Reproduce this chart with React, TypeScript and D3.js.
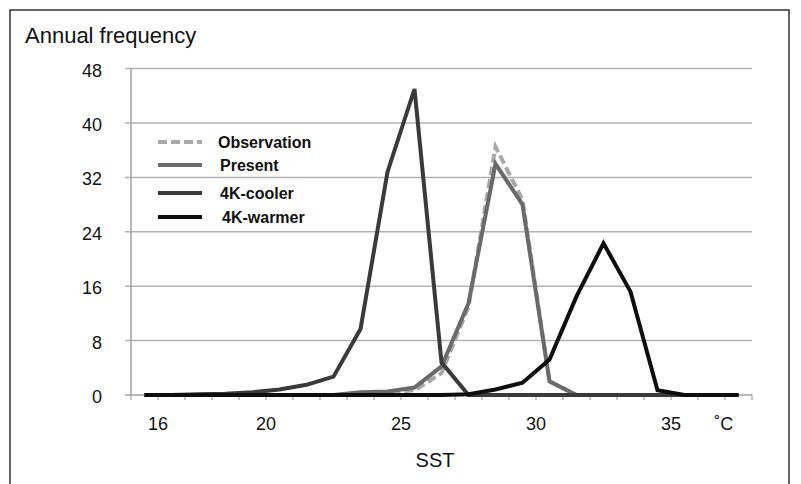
import { useEffect, useRef } from 'react'
import * as d3 from 'd3'

// SST bin centres (°C) and annual frequency for each run
const sst = [15.5, 16.5, 17.5, 18.5, 19.5, 20.5, 21.5, 22.5, 23.5, 24.5, 25.5, 26.5, 27.5, 28.5, 29.5, 30.5, 31.5, 32.5, 33.5, 34.5, 35.5, 36.5, 37.5]
const observation = [0, 0, 0, 0, 0, 0, 0, 0, 0.2, 0.3, 0.7, 3.2, 13, 36.5, 28.7, 2, 0, 0, 0, 0, 0, 0, 0]
const present = [0, 0, 0, 0, 0, 0, 0, 0, 0.4, 0.5, 1.1, 4.2, 13.5, 34, 28, 2, 0, 0, 0, 0, 0, 0, 0]
const cooler = [0, 0, 0.1, 0.2, 0.4, 0.8, 1.5, 2.7, 9.7, 32.8, 45, 4.8, 0, 0, 0, 0, 0, 0, 0, 0, 0, 0, 0]
const warmer = [0, 0, 0, 0, 0, 0, 0, 0, 0, 0, 0, 0, 0.1, 0.8, 1.8, 5.2, 14.5, 22.3, 15.2, 0.7, 0, 0, 0]

const yTicks = [0, 8, 16, 24, 32, 40, 48]
const xLabels = [16, 20, 25, 30, 35]

const series = [
  { name: 'Observation', values: observation, color: '#a8a8a8', dash: '9,4' },
  { name: 'Present', values: present, color: '#6a6a6a', dash: null },
  { name: '4K-cooler', values: cooler, color: '#3a3a3a', dash: null },
  { name: '4K-warmer', values: warmer, color: '#0e0e0e', dash: null },
]

const FONT = '"Liberation Sans", Arial, sans-serif'

export default function App() {
  const ref = useRef<SVGSVGElement>(null)

  useEffect(() => {
    if (!ref.current) return
    d3.select(ref.current).selectAll('*').remove()
    render(ref.current)
  }, [])

  return (
    <svg
      ref={ref}
      width={801}
      height={484}
      style={{ position: 'absolute', left: 0, top: 0, display: 'block', background: '#fff' }}
    />
  )
}

function render(el: SVGSVGElement) {
  const svg = d3.select(el).style('font-family', FONT)

  const x = d3.scaleLinear().domain([15, 38]).range([131, 752])
  const y = d3.scaleLinear().domain([0, 48]).range([395, 68.6])

  // outer frame
  svg.append('rect')
    .attr('x', 10).attr('y', 10)
    .attr('width', 779).attr('height', 490)
    .attr('fill', 'none')
    .attr('stroke', '#333')
    .attr('stroke-width', 1.5)

  // Grid
  svg.append('g')
    .selectAll('line')
    .data(yTicks.filter((d) => d > 0))
    .join('line')
    .attr('x1', 125).attr('x2', 752)
    .attr('y1', (d) => y(d)).attr('y2', (d) => y(d))
    .attr('stroke', '#b3b3b3')
    .attr('stroke-width', 1.5)

  // Y axis
  svg.append('line')
    .attr('x1', 131).attr('x2', 131)
    .attr('y1', y(48)).attr('y2', y(0))
    .attr('stroke', '#a0a0a0')
    .attr('stroke-width', 1.5)

  svg.append('g')
    .selectAll('text')
    .data(yTicks)
    .join('text')
    .attr('x', 102)
    .attr('y', (d) => y(d) + 8)
    .attr('text-anchor', 'end')
    .attr('font-size', 18)
    .attr('fill', '#111')
    .text((d) => d)

  // X axis
  svg.append('line')
    .attr('x1', 125).attr('x2', 752)
    .attr('y1', y(0)).attr('y2', y(0))
    .attr('stroke', '#a0a0a0')
    .attr('stroke-width', 1.5)

  svg.append('g')
    .selectAll('line')
    .data(d3.range(15, 39))
    .join('line')
    .attr('x1', (d) => x(d)).attr('x2', (d) => x(d))
    .attr('y1', y(0)).attr('y2', y(0) + 5)
    .attr('stroke', '#a0a0a0')
    .attr('stroke-width', 1.2)

  svg.append('g')
    .selectAll('text')
    .data(xLabels)
    .join('text')
    .attr('x', (d) => x(d))
    .attr('y', 430)
    .attr('text-anchor', 'middle')
    .attr('font-size', 18)
    .attr('fill', '#111')
    .text((d) => d)

  svg.append('text')
    .attr('x', x(36.95))
    .attr('y', 430)
    .attr('text-anchor', 'middle')
    .attr('font-size', 18)
    .attr('fill', '#111')
    .text('˚C')

  svg.append('text')
    .attr('x', 435)
    .attr('y', 467)
    .attr('text-anchor', 'middle')
    .attr('font-size', 20)
    .attr('fill', '#111')
    .text('SST')

  svg.append('text')
    .attr('x', 25)
    .attr('y', 43)
    .attr('font-size', 22)
    .attr('fill', '#111')
    .text('Annual frequency')

  // Lines
  const line = d3.line<number>()
    .x((_, i) => x(sst[i]))
    .y((d) => y(d))

  series.forEach((s) => {
    svg.append('path')
      .datum(s.values)
      .attr('d', line)
      .attr('fill', 'none')
      .attr('stroke', s.color)
      .attr('stroke-width', 4)
      .attr('stroke-linejoin', 'miter')
      .attr('stroke-dasharray', s.dash)
  })

  // Legend
  const rowsY = [142, 165, 193, 217]
  const textX = [218, 220, 220, 222]
  series.forEach((s, i) => {
    svg.append('line')
      .attr('x1', 158).attr('x2', 202)
      .attr('y1', rowsY[i]).attr('y2', rowsY[i])
      .attr('stroke', s.color)
      .attr('stroke-width', 4)
      .attr('stroke-dasharray', s.dash ? '9,4' : null)
    svg.append('text')
      .attr('x', textX[i])
      .attr('y', rowsY[i] + 6)
      .attr('font-size', 16)
      .attr('font-weight', 'bold')
      .attr('fill', '#111')
      .text(s.name)
  })
}
